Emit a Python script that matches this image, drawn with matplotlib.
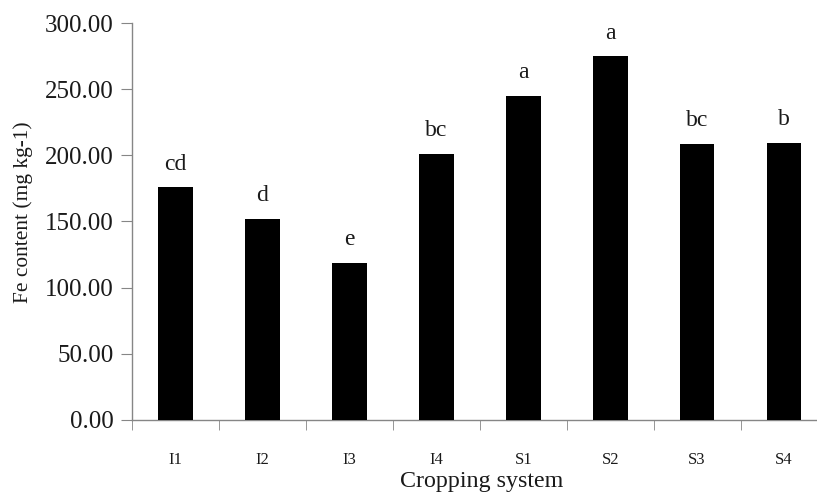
import numpy as np
import matplotlib.pyplot as plt

# ------------------ Datos ------------------
systems = ["I1", "I2", "I3", "I4", "S1", "S2", "S3", "S4"]
fe_content = [175.9, 151.9, 118.9, 201.3, 245.1, 274.8, 208.8, 209.6]
letters = ["cd", "d", "e", "bc", "a", "a", "bc", "b"]
y_ticks = [0, 50, 100, 150, 200, 250, 300]

plt.rcParams['font.family'] = ['Liberation Serif', 'DejaVu Serif']

fig = plt.figure(figsize=(8.17, 4.93), dpi=100)
ax = fig.add_axes([132 / 817, 1 - 420 / 493, 695.5 / 817, 397 / 493])

x = np.arange(len(systems))
bars = ax.bar(x, fe_content, width=0.40, color='black', zorder=3)

# Letras de significancia
for xi, val, lab in zip(x, fe_content, letters):
    ax.annotate(lab, (xi, val), xytext=(0, 9), textcoords='offset points',
                ha='center', va='bottom', fontsize=17, color='#1a1a1a')

ax.set_xlim(-0.5, len(systems) - 0.5)
ax.set_ylim(0, 300)

ax.set_yticks(y_ticks)
ax.set_yticklabels([f"{v:.2f}" for v in y_ticks], fontsize=18, color='#1a1a1a')

# etiquetas en el centro, marcas en los bordes
ax.set_xticks(x)
ax.set_xticklabels(systems, fontsize=12, color='#1a1a1a')
ax.set_xticks(np.arange(len(systems) + 1) - 0.5, minor=True)
ax.tick_params(axis='x', which='major', length=0, pad=23)
ax.tick_params(axis='x', which='minor', length=7, color='#868686', direction='out')
ax.tick_params(axis='y', length=8, color='#868686', direction='out', pad=5)

for side in ['top', 'right']:
    ax.spines[side].set_visible(False)
for side in ['left', 'bottom']:
    ax.spines[side].set_color('#868686')
    ax.spines[side].set_linewidth(1.0)

ax.set_xlabel("Cropping system", fontsize=17.3, color='#1a1a1a')
ax.xaxis.set_label_coords(0.5025, -0.128)
ax.set_ylabel("Fe content (mg kg-1)", fontsize=15.4, color='#1a1a1a')
ax.yaxis.set_label_coords(-0.143, 0.524)

fig.savefig("out.png", dpi=100)
